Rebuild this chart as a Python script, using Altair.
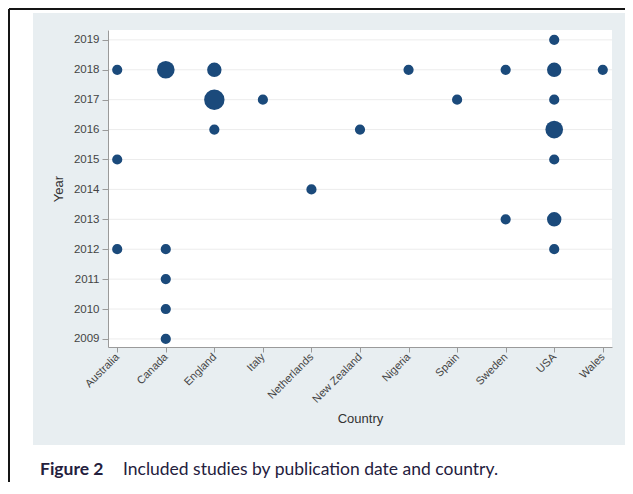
import altair as alt
import pandas as pd

# ---- data ----
countries = ["Australia", "Canada", "England", "Italy", "Netherlands", "New Zealand",
             "Nigeria", "Spain", "Sweden", "USA", "Wales"]
years = [2009, 2010, 2011, 2012, 2013, 2014, 2015, 2016, 2017, 2018, 2019]

study_country = ["Australia", "Australia", "Australia",
                 "Canada", "Canada", "Canada", "Canada", "Canada",
                 "England", "England", "England",
                 "Italy", "Netherlands", "New Zealand", "Nigeria", "Spain",
                 "Sweden", "Sweden",
                 "USA", "USA", "USA", "USA", "USA", "USA", "USA",
                 "Wales"]
study_year = [2018, 2015, 2012,
              2018, 2012, 2011, 2010, 2009,
              2018, 2017, 2016,
              2017, 2014, 2016, 2018, 2017,
              2018, 2013,
              2019, 2018, 2017, 2016, 2015, 2013, 2012,
              2018]
study_count = [1, 1, 1,
               3, 1, 1, 1, 1,
               2, 4, 1,
               1, 1, 1, 1, 1,
               1, 1,
               1, 2, 1, 3, 1, 2, 1,
               1]

caption_label = "Figure 2"
caption_text = "Included studies by publication date and country."
x_title = "Country"
y_title = "Year"

df = pd.DataFrame({"country": study_country, "year": study_year, "count": study_count})
grid_df = pd.DataFrame({"year": years})
one = pd.DataFrame({"k": [0]})

W, H = 504, 317
LABEL_FONT = "Liberation Sans"
DOT = "#1b4a7b"

yscale = alt.Scale(domain=[2008.73, 2019.33], nice=False, zero=False)
xscale = alt.Scale(domain=countries, padding=0.19)

yaxis = alt.Axis(values=years, format="d", grid=False, title=y_title,
                 titleX=-50, titleY=H / 2, titleAngle=-90, titleBaseline="middle",
                 titleAlign="center", titleFontSize=13, titleFont=LABEL_FONT,
                 titleColor="#333333", titleFontWeight="normal",
                 labelFont=LABEL_FONT, labelFontSize=11.5, labelColor="#444444",
                 labelPadding=3, tickSize=6, tickColor="#9a9a9a",
                 domainColor="#9a9a9a", zindex=1)
xaxis = alt.Axis(title=x_title, titleX=W / 2, titleY=71, titleBaseline="middle",
                 titleAlign="center", titleFontSize=13, titleFont=LABEL_FONT,
                 titleColor="#333333", titleFontWeight="normal",
                 labelFont=LABEL_FONT, labelFontSize=11, labelColor="#444444",
                 labelAngle=-45, labelAlign="right", labelBaseline="middle",
                 labelPadding=3, tickSize=5, tickColor="#9a9a9a",
                 domainColor="#9a9a9a", grid=False, zindex=1)

border_top = alt.Chart(one).mark_rule(color="#151515", strokeWidth=2).encode(
    x=alt.value(-99), x2=alt.value(517), y=alt.value(-21))
border_left = alt.Chart(one).mark_rule(color="#151515", strokeWidth=2).encode(
    x=alt.value(-99), y=alt.value(-21), y2=alt.value(454))
panel = alt.Chart(one).mark_rect(color="#e8eef1").encode(
    x=alt.value(-75), x2=alt.value(517), y=alt.value(-17), y2=alt.value(415))
plotbg = alt.Chart(one).mark_rect(color="white").encode(
    x=alt.value(0), x2=alt.value(W), y=alt.value(0), y2=alt.value(H))

grid = alt.Chart(grid_df).mark_rule(color="#ececec", strokeWidth=1).encode(
    y=alt.Y("year:Q", scale=yscale, axis=yaxis),
    x=alt.value(0), x2=alt.value(W))

dots = alt.Chart(df).mark_circle(opacity=1, color=DOT).encode(
    x=alt.X("country:N", sort=countries, scale=xscale, axis=xaxis),
    y=alt.Y("year:Q", scale=yscale, axis=yaxis),
    size=alt.Size("count:Q", scale=alt.Scale(domain=[0, 4], range=[0, 416]), legend=None),
)

cap1 = alt.Chart(one).mark_text(text=caption_label, font="Lato", fontSize=17.5,
                                fontWeight="bold", color="#24203d", align="left",
                                baseline="alphabetic").encode(
    x=alt.value(-68), y=alt.value(445))
cap2 = alt.Chart(one).mark_text(text=caption_text, font="Lato", fontSize=17.5,
                                color="#24203d", align="left",
                                baseline="alphabetic").encode(
    x=alt.value(15), y=alt.value(445))

chart = alt.layer(border_top, border_left, panel, plotbg, grid, dots, cap1, cap2).properties(
    width=W, height=H,
    autosize=alt.AutoSizeParams(type="none"),
    padding={"left": 100, "top": 22, "right": 13, "bottom": 135},
).configure_view(stroke=None).configure(background="white")

chart.save("out.html", embed_options={"renderer": "svg", "actions": False})
